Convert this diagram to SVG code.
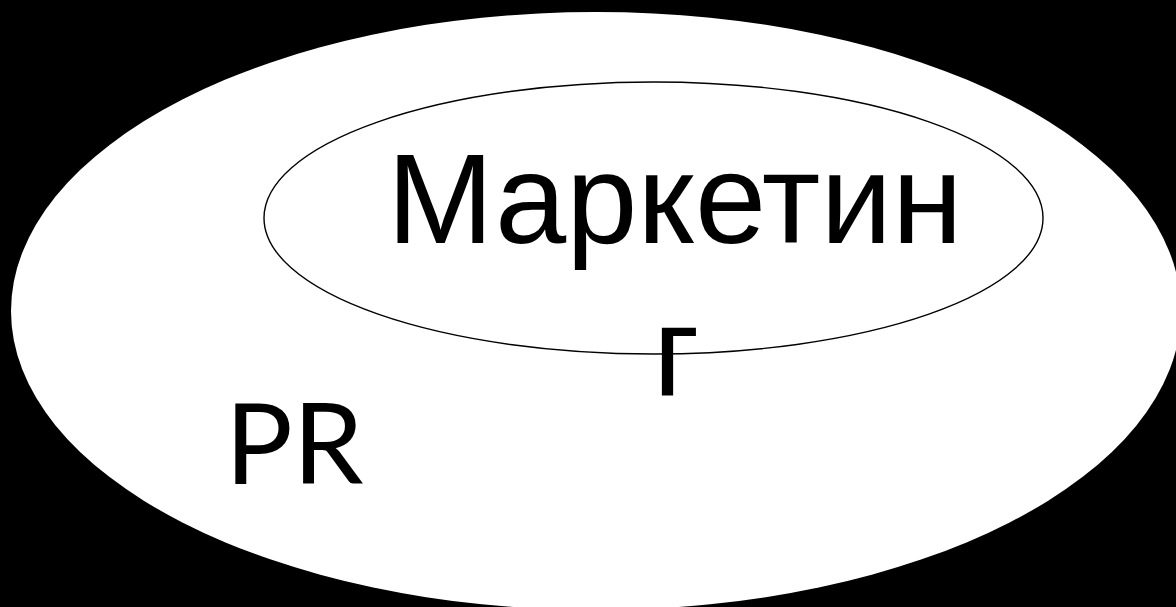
<svg xmlns="http://www.w3.org/2000/svg" width="1176" height="607" viewBox="0 0 1176 607">
<style>
.bg{fill:#000}
.outer{fill:#fff}
.inner{fill:none;stroke:#000;stroke-width:1.4}
.t1{font-family:"Liberation Sans",Arial,sans-serif;font-size:128px;fill:#000}
.t2{font-family:Lato,"Open Sans",sans-serif;font-size:113px;fill:#000}
</style>
<rect class="bg" x="0" y="0" width="1176" height="607"/>
<g id="pr">
<ellipse class="outer" cx="596" cy="311" rx="585" ry="299"/>
<text class="t2" x="225" y="484">PR</text>
</g>
<g id="marketing">
<ellipse class="inner" cx="653.5" cy="218" rx="389.5" ry="136"/>
<text class="t1" x="387" y="243">Маркетин</text>
<text class="t1" x="653" y="396">г</text>
</g>
<g id="connectors"/>
</svg>
